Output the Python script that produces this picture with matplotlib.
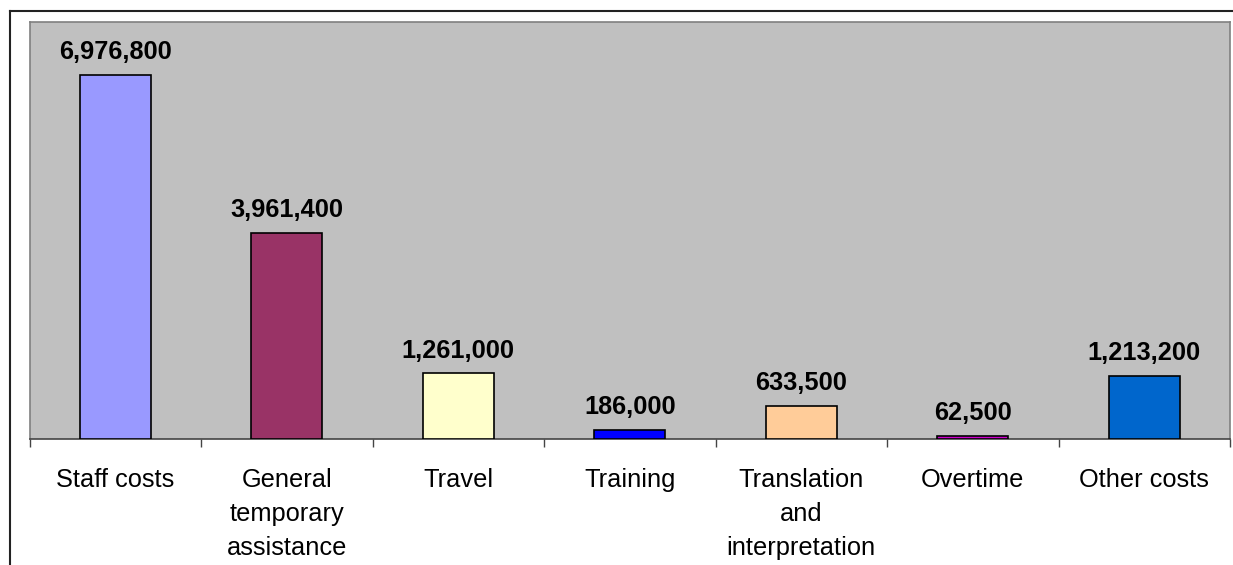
import matplotlib.pyplot as plt
from matplotlib.lines import Line2D
import numpy as np

plt.rcParams['font.family'] = ['Liberation Sans', 'DejaVu Sans']

categories = ["Staff costs", "General\ntemporary\nassistance", "Travel", "Training",
              "Translation\nand\ninterpretation", "Overtime", "Other costs"]
amounts = [6976800, 3961400, 1261000, 186000, 633500, 62500, 1213200]
colors = ["#9999FF", "#993366", "#FFFFCC", "#0000FF", "#FFCC99", "#CC00CC", "#0066CC"]

W, H = 1233, 565
fig = plt.figure(figsize=(W / 100, H / 100), dpi=100)
ax = fig.add_axes([29.5 / W, 1 - 439.3 / H, (1230 - 29.5) / W, (439.3 - 21.7) / H])
ax.set_facecolor("#C0C0C0")

x = np.arange(len(categories))
ax.bar(x, amounts, width=0.415, color=colors, edgecolor="black", linewidth=1.2, zorder=3)

for xi, v in zip(x, amounts):
    ax.annotate(f"{v:,}", (xi, v), xytext=(0, 11.5), textcoords="offset points",
                ha="center", va="baseline", fontsize=18.3, fontweight="bold")

ax.set_xlim(-0.5, len(categories) - 0.5)
ax.set_ylim(0, 8000000)
ax.set_yticks([])

# labels sit at the bar centres, ticks mark the category boundaries
ax.set_xticks(x)
ax.set_xticklabels(categories, fontsize=18.3, linespacing=1.52)
ax.tick_params(axis="x", which="major", length=0, pad=21)
ax.set_xticks(np.arange(len(categories) + 1) - 0.5, minor=True)
ax.tick_params(axis="x", which="minor", length=6, width=1, color="#444444", direction="out")

for side in ("top", "right", "left"):
    ax.spines[side].set_color("#808080")
    ax.spines[side].set_linewidth(1.2)
ax.spines["bottom"].set_color("#444444")
ax.spines["bottom"].set_linewidth(1.2)

# chart frame, partly cut off at the bottom and right
fig.add_artist(Line2D([10 / W, 10 / W], [0, 1 - 11 / H], color="#222222", linewidth=1.5))
fig.add_artist(Line2D([10 / W, 1], [1 - 11 / H, 1 - 11 / H], color="#222222", linewidth=1.5))

fig.savefig("out.png", dpi=100)
